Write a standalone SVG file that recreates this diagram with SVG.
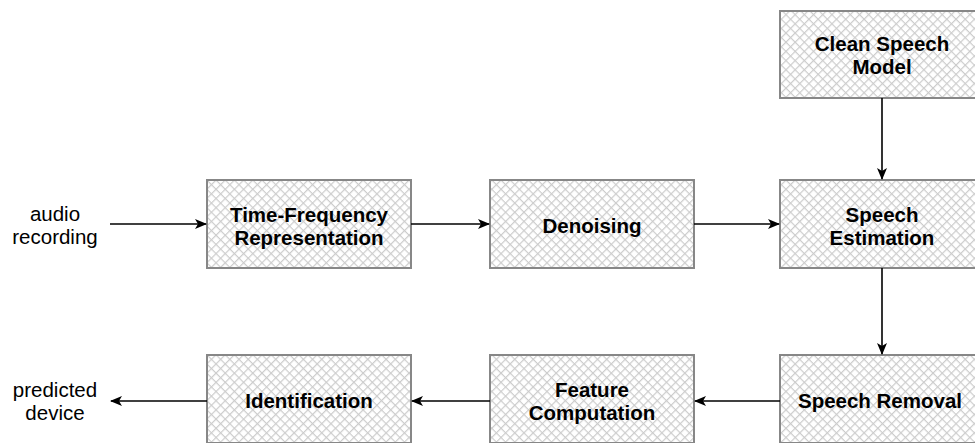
<svg xmlns="http://www.w3.org/2000/svg" width="975" height="443" viewBox="0 0 975 443">
  <defs>
    <!-- light diagonal cross-hatch fill for the process blocks -->
    <pattern id="hatch" patternUnits="userSpaceOnUse" width="6.5" height="6.5" patternTransform="rotate(45)">
      <rect width="6.5" height="6.5" fill="#ffffff"/>
      <path d="M0 0H6.5M0 0V6.5" stroke="#cccccc" stroke-width="2.4" fill="none"/>
    </pattern>
    <marker id="arrow" viewBox="0 0 12 12" refX="11" refY="6" markerWidth="12" markerHeight="12" markerUnits="userSpaceOnUse" orient="auto">
      <path d="M0 1L12 6L0 11L3 6Z" fill="#000"/>
    </marker>
    <style>
      .box { fill: url(#hatch); stroke: #878787; stroke-width: 2; }
      .lbl { font-family: "Liberation Sans", Arial, Helvetica, sans-serif; font-size: 20.5px; font-weight: bold; fill: #000; text-anchor: middle; }
      .io { font-family: "Liberation Sans", Arial, Helvetica, sans-serif; font-size: 20.5px; fill: #000; text-anchor: middle; }
      .edge { stroke: #000; stroke-width: 1.6; fill: none; marker-end: url(#arrow); }
    </style>
  </defs>

  <!-- external input / output labels -->
  <g id="audio-recording">
    <text class="io" x="55" y="221">audio</text>
    <text class="io" x="55" y="244">recording</text>
  </g>
  <g id="predicted-device">
    <text class="io" x="55" y="397">predicted</text>
    <text class="io" x="55" y="420">device</text>
  </g>

  <!-- processing blocks -->
  <g id="clean-speech-model">
    <rect class="box" x="780" y="11" width="204" height="87"/>
    <text class="lbl" x="882" y="51">Clean Speech</text>
    <text class="lbl" x="882" y="74">Model</text>
  </g>
  <g id="time-frequency">
    <rect class="box" x="207" y="180" width="204" height="88"/>
    <text class="lbl" x="309" y="222">Time-Frequency</text>
    <text class="lbl" x="309" y="245">Representation</text>
  </g>
  <g id="denoising">
    <rect class="box" x="490" y="180" width="204" height="88"/>
    <text class="lbl" x="592" y="233">Denoising</text>
  </g>
  <g id="speech-estimation">
    <rect class="box" x="780" y="180" width="204" height="88"/>
    <text class="lbl" x="882" y="222">Speech</text>
    <text class="lbl" x="882" y="245">Estimation</text>
  </g>
  <g id="identification">
    <rect class="box" x="207" y="355" width="204" height="88"/>
    <text class="lbl" x="309" y="408">Identification</text>
  </g>
  <g id="feature-computation">
    <rect class="box" x="490" y="355" width="204" height="88"/>
    <text class="lbl" x="592" y="397">Feature</text>
    <text class="lbl" x="592" y="420">Computation</text>
  </g>
  <g id="speech-removal">
    <rect class="box" x="780" y="355" width="204" height="88"/>
    <text class="lbl" x="880" y="408">Speech Removal</text>
  </g>

  <!-- connectors -->
  <g id="connectors">
    <path class="edge" d="M110 224H206"/>
    <path class="edge" d="M411 224H489"/>
    <path class="edge" d="M694 224H779"/>
    <path class="edge" d="M882 98V179"/>
    <path class="edge" d="M882 268V354"/>
    <path class="edge" d="M780 401H695"/>
    <path class="edge" d="M490 401H412"/>
    <path class="edge" d="M207 401H111"/>
  </g>
</svg>
